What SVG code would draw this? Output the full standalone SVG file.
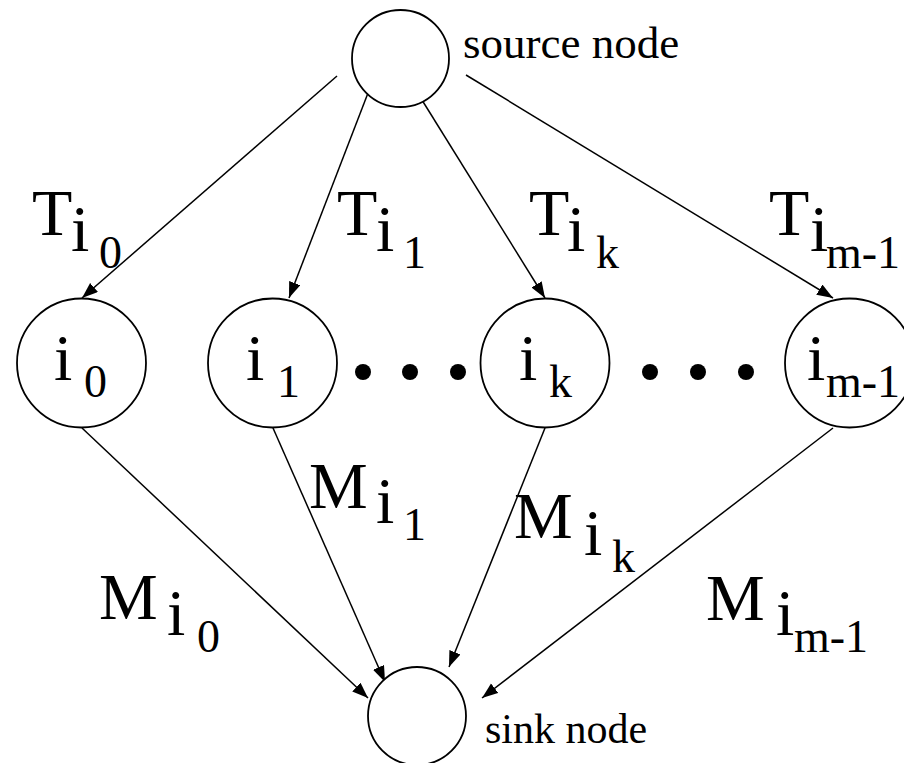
<svg xmlns="http://www.w3.org/2000/svg" width="904" height="763" viewBox="0 0 904 763">
<style>
.n{fill:#fff;stroke:#000;stroke-width:1.8}
.e{stroke:#000;stroke-width:1.5;fill:none;marker-end:url(#ah)}
text{font-family:"Liberation Serif","Times New Roman","DejaVu Serif",serif;fill:#000}
.b{font-size:66px}
.s{font-size:46px}
.c{font-size:45px}
.k{font-size:42px}
.d{fill:#000}
</style>
<defs>
<marker id="ah" markerUnits="userSpaceOnUse" markerWidth="18" markerHeight="14" refX="16" refY="6" orient="auto">
<path d="M0,0 L16,6 L0,12 z" fill="#000"/>
</marker>
</defs>
<rect width="904" height="763" fill="#fff"/>
<g id="connectors">
<line class="e" x1="337" y1="76" x2="82" y2="298"/>
<line class="e" x1="368" y1="93" x2="289" y2="298"/>
<line class="e" x1="417" y1="92" x2="545" y2="298"/>
<line class="e" x1="466" y1="75" x2="833" y2="298"/>
<line class="e" x1="82" y1="428" x2="368" y2="698"/>
<line class="e" x1="273" y1="428" x2="385" y2="682"/>
<line class="e" x1="545" y1="428" x2="449" y2="667"/>
<line class="e" x1="833" y1="428" x2="482" y2="698"/>
</g>
<g id="source">
<circle class="n" cx="400.5" cy="58.5" r="48.5"/>
<text class="c" x="463" y="58">source node</text>
</g>
<g id="sink">
<circle class="n" cx="417" cy="716" r="49"/>
<text class="k" x="485" y="743">sink node</text>
</g>
<g id="i0">
<circle class="n" cx="81.5" cy="363" r="64.5"/>
<text class="b" x="54" y="380">i</text><text class="s" x="84" y="397">0</text>
</g>
<g id="i1">
<circle class="n" cx="272.5" cy="363" r="64.5"/>
<text class="b" x="246" y="380">i</text><text class="s" x="277" y="397">1</text>
</g>
<g id="ik">
<circle class="n" cx="545" cy="363" r="64.5"/>
<text class="b" x="519" y="380">i</text><text class="s" x="549" y="397">k</text>
</g>
<g id="im1">
<circle class="n" cx="849.5" cy="363" r="64.5"/>
<text class="b" x="807" y="380">i</text><text class="s" x="826" y="397">m-1</text>
</g>
<g id="dots">
<circle class="d" cx="363" cy="372" r="8"/>
<circle class="d" cx="410" cy="372" r="8"/>
<circle class="d" cx="458" cy="372" r="8"/>
<circle class="d" cx="650" cy="372" r="8"/>
<circle class="d" cx="698" cy="372" r="8"/>
<circle class="d" cx="746" cy="372" r="8"/>
</g>
<g id="labels">
<text class="b" x="32" y="235">T</text><text class="b" x="71" y="251">i</text><text class="s" x="99" y="268">0</text>
<text class="b" x="337" y="235">T</text><text class="b" x="376" y="251">i</text><text class="s" x="403" y="268">1</text>
<text class="b" x="529" y="235">T</text><text class="b" x="567" y="251">i</text><text class="s" x="596" y="268">k</text>
<text class="b" x="769" y="235">T</text><text class="b" x="810" y="251">i</text><text class="s" x="826" y="268">m-1</text>
<text class="b" x="99" y="619">M</text><text class="b" x="167" y="635">i</text><text class="s" x="197" y="652">0</text>
<text class="b" x="309" y="508">M</text><text class="b" x="376" y="523">i</text><text class="s" x="403" y="540">1</text>
<text class="b" x="514" y="538">M</text><text class="b" x="584" y="555">i</text><text class="s" x="612" y="572">k</text>
<text class="b" x="706" y="620">M</text><text class="b" x="776" y="635">i</text><text class="s" x="794" y="652">m-1</text>
</g>
</svg>
